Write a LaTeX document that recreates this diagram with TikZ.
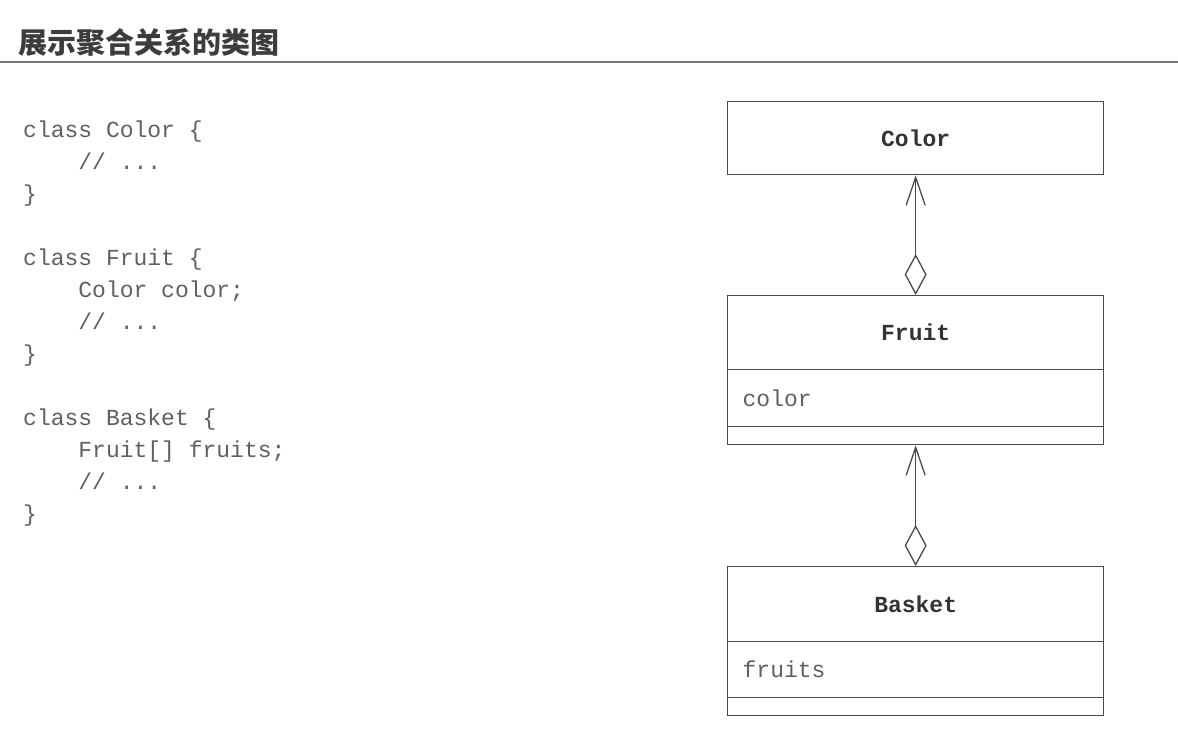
\documentclass[tikz,border=0pt]{standalone}
\usepackage{fontspec}
\setmainfont{Liberation Serif}
\setmonofont{Liberation Mono}
\newfontfamily\cjk{Noto Sans CJK SC}
\usetikzlibrary{arrows.meta}
\definecolor{linec}{HTML}{4A4A4A}
\definecolor{codec}{HTML}{606060}
\definecolor{namec}{HTML}{333333}
\definecolor{titlec}{HTML}{3C3C3C}
\definecolor{rulec}{HTML}{777777}
\begin{document}
\begin{tikzpicture}[x=1pt,y=-1pt,
  box/.style={draw=linec, line width=1.3pt, minimum width=376pt, inner sep=0pt, anchor=north west},
  namecell/.style={box, font=\ttfamily\bfseries\fontsize{23}{23}\selectfont, text=namec,
    text height=17pt, text depth=1pt},
  attrcell/.style={box, font=\ttfamily\fontsize{23}{23}\selectfont, text=codec,
    text height=17pt, text depth=1pt, inner xsep=15pt, text width=346pt, align=left},
  codeline/.style={anchor=base west, inner sep=0pt, font=\ttfamily\fontsize{23}{23}\selectfont, text=codec},
  conn/.style={draw=linec, line width=1.3pt, line join=round,
    {Diamond[open,length=41pt,width=22pt]}-{Straight Barb[length=28pt,width=19pt]}}
]
\useasboundingbox (0,0) rectangle (1178,750);
\fill[white] (0,0) rectangle (1178,750);

% title and rule
\node[anchor=base west, inner sep=0pt, font=\cjk\bfseries\fontsize{29}{29}\selectfont, text=titlec] (title) at (18,53) {展示聚合关系的类图};
\coordinate (ruleL) at (0,62);
\coordinate (ruleR) at (1178,62);
\draw[rulec, line width=1.3pt] (ruleL) -- (ruleR);

% code
\def\ind{\phantom{xxxx}}
\node[codeline] (c1)  at (23,137) {class Color \{};
\node[codeline] (c2)  at (23,169) {\ind// ...};
\node[codeline] (c3)  at (23,201) {\}};
\node[codeline] (c4)  at (23,265) {class Fruit \{};
\node[codeline] (c5)  at (23,297) {\ind Color color;};
\node[codeline] (c6)  at (23,329) {\ind// ...};
\node[codeline] (c7)  at (23,361) {\}};
\node[codeline] (c8)  at (23,425) {class Basket \{};
\node[codeline] (c9)  at (23,457) {\ind Fruit[] fruits;};
\node[codeline] (c10) at (23,489) {\ind// ...};
\node[codeline] (c11) at (23,521) {\}};

% classes
\node[namecell, minimum height=73pt] (color) at (727,101) {Color};

\node[namecell, minimum height=74pt] (fruit) at (727,295) {Fruit};
\node[attrcell, minimum height=57pt] (fruitattr) at (727,369) {color};
\node[box, minimum height=18pt] (fruitops) at (727,426) {};

\node[namecell, minimum height=75pt] (basket) at (727,566) {Basket};
\node[attrcell, minimum height=56pt] (basketattr) at (727,641) {fruits};
\node[box, minimum height=18pt] (basketops) at (727,697) {};

% aggregations
\draw[conn] (fruit.north) -- (color.south);
\draw[conn] (basket.north) -- (fruitops.south);
\end{tikzpicture}
\end{document}
